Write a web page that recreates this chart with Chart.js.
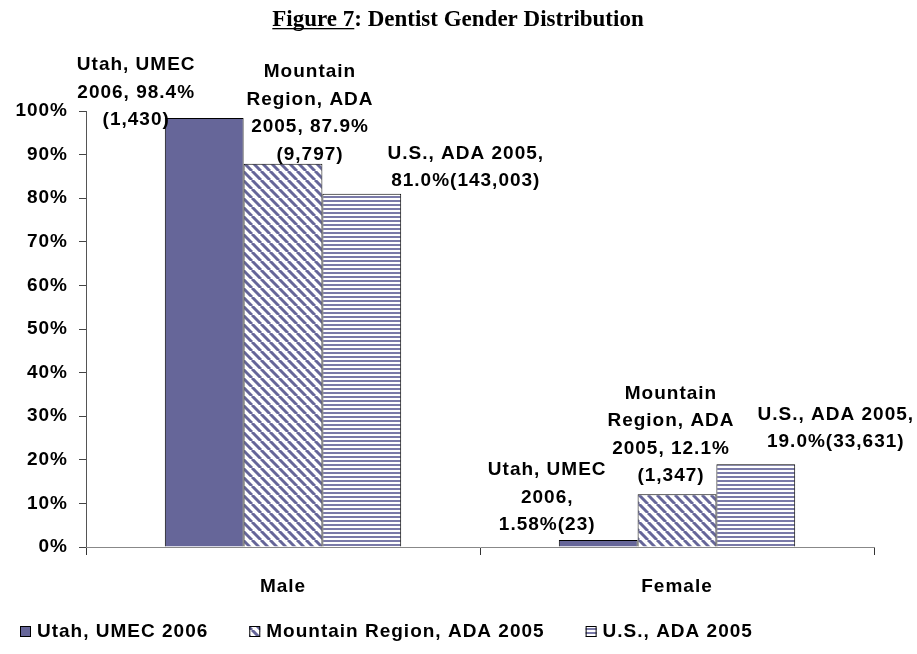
<!DOCTYPE html>
<html>
<head>
<meta charset="utf-8">
<title>Dentist Gender Distribution</title>
<script src="https://cdn.jsdelivr.net/npm/chart.js@4.4.0/dist/chart.umd.min.js"></script>
<style>
    body { margin: 0; background: #fff; }
    #chartWrap { width: 917px; height: 654px; }
</style>
</head>
<body>
<div id="chartWrap"><canvas id="genderChart" width="917" height="654"></canvas></div>
<script>
// Datos
const categories = ['Male', 'Female'];
const seriesNames = ['Utah, UMEC 2006', 'Mountain Region, ADA 2005', 'U.S., ADA 2005'];
const utahValues = [98.4, 1.58];
const mountainValues = [87.9, 12.1];
const usValues = [81.0, 19.0];
const yTickMax = 100;
const yTickStep = 10;

// Etiquetas de cada barra (texto en varias lineas)
const utahLabels = [['Utah, UMEC', '2006, 98.4%', '(1,430)'], ['Utah, UMEC', '2006,', '1.58%(23)']];
const mountainLabels = [['Mountain', 'Region, ADA', '2005, 87.9%', '(9,797)'], ['Mountain', 'Region, ADA', '2005, 12.1%', '(1,347)']];
const usLabels = [['U.S., ADA 2005,', '81.0%(143,003)'], ['U.S., ADA 2005,', '19.0%(33,631)']];

document.addEventListener('DOMContentLoaded', function() {
    const canvas = document.getElementById('genderChart');
    const ctx = canvas.getContext('2d');
    const purple = '#666699';
    const boldFont = 'bold 19px "Liberation Sans", Arial, sans-serif';
    const spacing = '1px';

    // Tramas de relleno
    function diagonalPattern() {
        const c = document.createElement('canvas');
        c.width = 9; c.height = 9;
        const p = c.getContext('2d');
        p.fillStyle = '#fff';
        p.fillRect(0, 0, 9, 9);
        p.strokeStyle = purple;
        p.lineWidth = 3;
        [-9, 0, 9].forEach(k => {
            p.beginPath();
            p.moveTo(k, 0);
            p.lineTo(k + 9, 9);
            p.stroke();
        });
        return ctx.createPattern(c, 'repeat');
    }
    function horizontalPattern() {
        const c = document.createElement('canvas');
        c.width = 4; c.height = 4;
        const p = c.getContext('2d');
        p.fillStyle = '#fff';
        p.fillRect(0, 0, 4, 4);
        p.fillStyle = '#7a7aa8';
        p.fillRect(0, 0, 4, 2);
        return ctx.createPattern(c, 'repeat');
    }
    const fills = [purple, diagonalPattern(), horizontalPattern()];

    // Posicion de cada etiqueta respecto a la parte superior de la barra
    const labelOffsets = [
        [{ dx: -68, dy: 2 }, { dx: -51, dy: -15 }],
        [{ dx: 27, dy: -9 }, { dx: -6, dy: -18 }],
        [{ dx: 104, dy: -13 }, { dx: 80, dy: -22 }]
    ];
    const allLabels = [utahLabels, mountainLabels, usLabels];
    const lineHeight = 27.5;

    const spacingPlugin = {
        id: 'spacing',
        beforeLayout(chart) { chart.ctx.letterSpacing = spacing; },
        beforeDraw(chart) {
            chart.ctx.letterSpacing = spacing;
            chart.ctx.fillStyle = '#fff';
            chart.ctx.fillRect(0, 0, chart.width, chart.height);
        }
    };

    const labelsPlugin = {
        id: 'barLabels',
        afterDatasetsDraw(chart) {
            const c = chart.ctx;
            c.save();
            c.letterSpacing = spacing;
            c.font = boldFont;
            c.fillStyle = '#000';
            c.textAlign = 'center';
            c.textBaseline = 'middle';
            chart.data.datasets.forEach((ds, i) => {
                const meta = chart.getDatasetMeta(i);
                meta.data.forEach((bar, j) => {
                    const lines = allLabels[i][j];
                    const off = labelOffsets[i][j];
                    const baseY = bar.y + off.dy;
                    lines.forEach((line, k) => {
                        const y = baseY - (lines.length - 1 - k) * lineHeight;
                        c.fillText(line, bar.x + off.dx, y);
                    });
                });
            });
            c.restore();
        },
        afterDraw(chart) {
            const c = chart.ctx;
            c.save();
            // Titulo
            c.letterSpacing = '0px';
            c.font = 'bold 23px "Liberation Serif", "Times New Roman", serif';
            c.fillStyle = '#000';
            c.textBaseline = 'alphabetic';
            c.textAlign = 'left';
            const part1 = 'Figure 7';
            const part2 = ': Dentist Gender Distribution';
            const w1 = c.measureText(part1).width;
            const w2 = c.measureText(part2).width;
            const tx = 458 - (w1 + w2) / 2;
            const ty = 26;
            c.fillText(part1, tx, ty);
            c.fillText(part2, tx + w1, ty);
            c.fillRect(tx, ty + 2, w1, 1.3);

            // Leyenda
            c.letterSpacing = spacing;
            c.font = boldFont;
            c.textBaseline = 'middle';
            let x = 20;
            const ly = 632;
            seriesNames.forEach((name, i) => {
                c.fillStyle = fills[i];
                c.fillRect(x, ly - 6, 11, 11);
                c.strokeStyle = '#000';
                c.lineWidth = 1;
                c.strokeRect(x + 0.5, ly - 5.5, 10, 10);
                c.fillStyle = '#000';
                c.fillText(name, x + 17, ly);
                x += 17 + c.measureText(name).width + 41;
            });
            c.restore();
        }
    };

    const genderChart = new Chart(ctx, {
        type: 'bar',
        data: {
            labels: categories,
            datasets: [utahValues, mountainValues, usValues].map((vals, i) => ({
                label: seriesNames[i],
                data: vals,
                backgroundColor: fills[i],
                borderColor: '#000',
                borderWidth: 1,
                borderSkipped: 'bottom'
            }))
        },
        options: {
            responsive: false,
            animation: false,
            events: [],
            layout: {
                padding: { top: 111, right: 43, bottom: 0, left: 0 }
            },
            datasets: {
                bar: {
                    categoryPercentage: 0.6,
                    barPercentage: 1.0
                }
            },
            plugins: {
                legend: { display: false },
                title: { display: false },
                tooltip: { enabled: false }
            },
            scales: {
                y: {
                    min: 0,
                    max: yTickMax,
                    afterFit(scale) { scale.width = 86; },
                    ticks: {
                        stepSize: yTickStep,
                        padding: 11,
                        color: '#000',
                        font: { family: '"Liberation Sans", Arial, sans-serif', size: 19, weight: 'bold' },
                        callback: v => v + '%'
                    },
                    grid: {
                        drawOnChartArea: false,
                        tickLength: 7,
                        color: '#444'
                    },
                    border: { color: '#555', width: 1 }
                },
                x: {
                    afterFit(scale) { scale.height = 107; },
                    ticks: {
                        padding: 20,
                        color: '#000',
                        font: { family: '"Liberation Sans", Arial, sans-serif', size: 19, weight: 'bold' }
                    },
                    grid: {
                        offset: true,
                        drawOnChartArea: false,
                        tickLength: 8,
                        color: '#333'
                    },
                    border: { color: '#888', width: 1 }
                }
            }
        },
        plugins: [spacingPlugin, labelsPlugin]
    });
});
</script>
</body>
</html>
